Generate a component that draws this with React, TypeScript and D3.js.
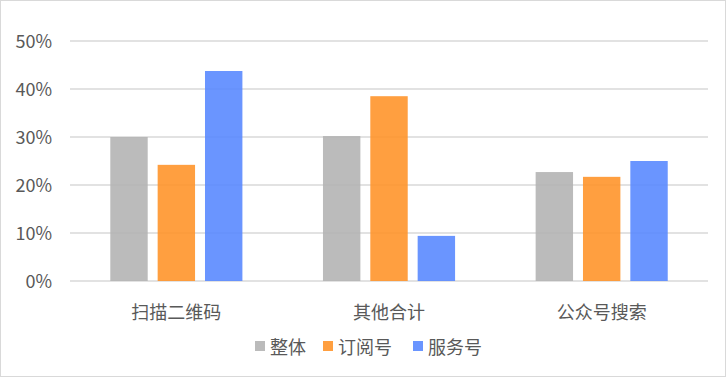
import * as d3 from "d3";
import React from "react";

const categories = ["扫描二维码", "其他合计", "公众号搜索"];
const seriesNames = ["整体", "订阅号", "服务号"];
const overall = [0.3, 0.302, 0.227];
const subscription = [0.242, 0.385, 0.217];
const service = [0.4375, 0.094, 0.25];
const yTicks = [0, 0.1, 0.2, 0.3, 0.4, 0.5];

const colors = ["#b4b4b4", "#ff952b", "#5a8aff"];

const W = 726;
const H = 377;

const App = () => {
  const values = [overall, subscription, service];

  const x = d3.scaleBand<string>().domain(categories).range([70, 708]).paddingInner(0);
  const inner = d3
    .scaleBand<string>()
    .domain(seriesNames)
    .range([40.3, 172.4])
    .paddingInner(0.21);
  const y = d3.scaleLinear().domain([0, 0.5]).range([281, 41]);
  const fmt = d3.format(".0%");

  const font = "'Noto Sans CJK SC', 'Microsoft YaHei', sans-serif";

  // legend entries, left edge of each swatch
  const legendX = [255, 323, 413];

  return (
    <div style={{ position: "absolute", left: 0, top: 0 }}>
      <svg width={W} height={H} style={{ display: "block", fontFamily: font }}>
        <rect x={0.5} y={0.5} width={W - 1} height={H - 1} fill="#fff" stroke="#d9d9d9" />
        {yTicks.map((t) => (
          <g key={t}>
            <line x1={70} x2={708} y1={y(t)} y2={y(t)} stroke="#d9d9d9" strokeWidth={1.5} />
            <text
              x={52}
              y={y(t) - 1}
              textAnchor="end"
              dominantBaseline="central"
              fontSize={18}
              fill="#595959"
            >
              {fmt(t)}
            </text>
          </g>
        ))}
        {categories.map((c, ci) => (
          <g key={c} transform={`translate(${x(c)},0)`}>
            {seriesNames.map((s, si) => (
              <rect
                key={s}
                x={inner(s)}
                y={y(values[si][ci])}
                width={inner.bandwidth()}
                height={y(0) - y(values[si][ci])}
                fill={colors[si]}
                fillOpacity={0.9}
              />
            ))}
            <text
              x={x.bandwidth() / 2}
              y={311}
              textAnchor="middle"
              dominantBaseline="central"
              fontSize={18}
              fill="#595959"
            >
              {c}
            </text>
          </g>
        ))}
        {seriesNames.map((s, si) => (
          <g key={s} transform={`translate(${legendX[si]},0)`}>
            <rect x={0} y={341} width={10} height={10} fill={colors[si]} fillOpacity={0.9} />
            <text x={15} y={346} dominantBaseline="central" fontSize={18} fill="#595959">
              {s}
            </text>
          </g>
        ))}
      </svg>
    </div>
  );
};

export default App;
